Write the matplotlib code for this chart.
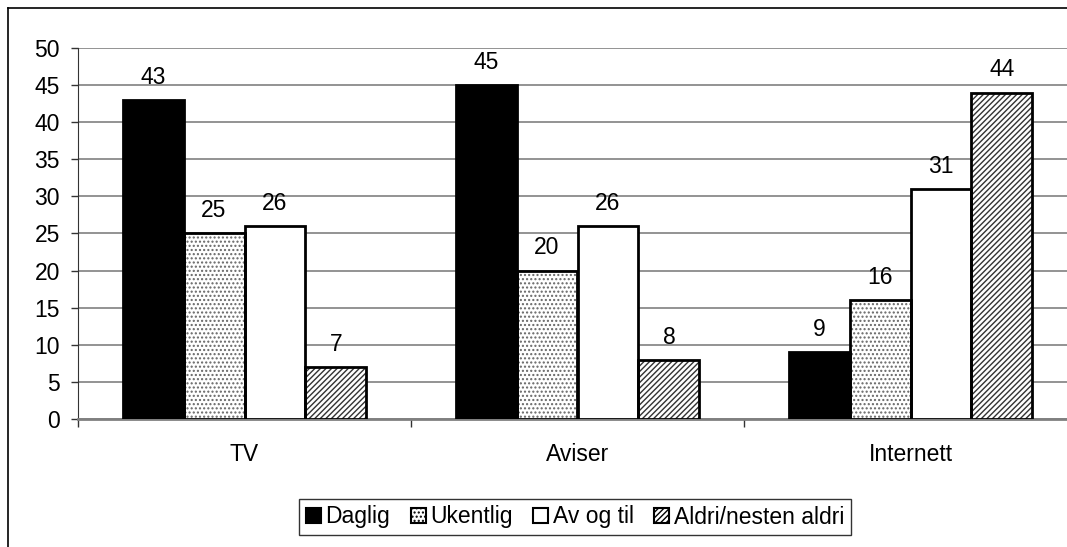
import numpy as np
import matplotlib
matplotlib.use("Agg")
import matplotlib.pyplot as plt
from matplotlib.lines import Line2D
from matplotlib.patches import Patch

categories = ["TV", "Aviser", "Internett"]
series_names = ["Daglig", "Ukentlig", "Av og til", "Aldri/nesten aldri"]
daglig = [43, 45, 9]
ukentlig = [25, 20, 16]
av_og_til = [26, 26, 31]
aldri = [7, 8, 44]

plt.rcParams['font.family'] = ['Liberation Sans', 'DejaVu Sans']
plt.rcParams['hatch.linewidth'] = 1.0
FS = 16.5

W, H = 1067, 547
fig = plt.figure(figsize=(W / 100, H / 100), dpi=100)

# axes placed in pixel terms (right edge runs off the picture, like the source)
left, right, top, bottom = 78, 1077, 48, 419
ax = fig.add_axes([left / W, (H - bottom) / H, (right - left) / W, (bottom - top) / H])

x = np.arange(len(categories))
bw = 0.183
styles = [
    dict(color="black", edgecolor="black", hatch=None),
    dict(color="white", edgecolor="#666666", hatch="...."),
    dict(color="white", edgecolor="black", hatch=None),
    dict(color="white", edgecolor="#333333", hatch="//////"),
]
values = [daglig, ukentlig, av_og_til, aldri]
handles = []
for i, (vals, st) in enumerate(zip(values, styles)):
    pos = x + (i - 1.5) * bw
    bars = ax.bar(pos, vals, bw, facecolor=st["color"], edgecolor=st["edgecolor"],
                  hatch=st["hatch"], linewidth=0, zorder=3)
    # black outline on top of the hatch
    ax.bar(pos, vals, bw, facecolor="none", edgecolor="black", linewidth=2, zorder=4)
    ax.bar_label(bars, labels=[str(v) for v in vals], padding=8, fontsize=FS, zorder=5)
    handles.append(Patch(facecolor=st["color"], edgecolor="black", hatch=st["hatch"],
                         linewidth=1.5, label=series_names[i]))

ax.set_xlim(-0.5, 2.5)
ax.set_ylim(0, 50)
ax.set_yticks(np.arange(0, 51, 5))
ax.yaxis.grid(True, color="#808080", linewidth=1.2, zorder=0)
ax.set_axisbelow(True)

ax.set_xticks([-0.5, 0.5, 1.5, 2.5])
ax.set_xticklabels([])
ax.set_xticks(x, minor=True)
ax.set_xticklabels(categories, minor=True)
ax.tick_params(axis="x", which="major", length=6, width=1, direction="out", color="#333333")
ax.tick_params(axis="x", which="minor", length=0, pad=17, labelsize=FS)
ax.tick_params(axis="y", length=5, width=1, direction="out", labelsize=FS, pad=8, color="#333333")

for s in ["top", "right"]:
    ax.spines[s].set_visible(False)
ax.spines["left"].set_color("#333333")
ax.spines["bottom"].set_color("#808080")
ax.spines["bottom"].set_linewidth(2)

leg = ax.legend(handles=handles, loc="center", bbox_to_anchor=(575 / W, (H - 517) / H),
                bbox_transform=fig.transFigure, ncol=4, fontsize=FS, frameon=True,
                fancybox=False, edgecolor="black", handlelength=0.65, handleheight=0.65,
                handletextpad=0.2, columnspacing=0.9, borderpad=0.3, borderaxespad=0)
leg.get_frame().set_linewidth(1)

# outer chart border (only left and top visible)
fig.add_artist(Line2D([8 / W, 8 / W], [0, 1 - 8 / H], transform=fig.transFigure, color="black", lw=1.2))
fig.add_artist(Line2D([8 / W, 1], [1 - 8 / H, 1 - 8 / H], transform=fig.transFigure, color="black", lw=1.2))

fig.savefig("out.png", dpi=100, facecolor="white")
